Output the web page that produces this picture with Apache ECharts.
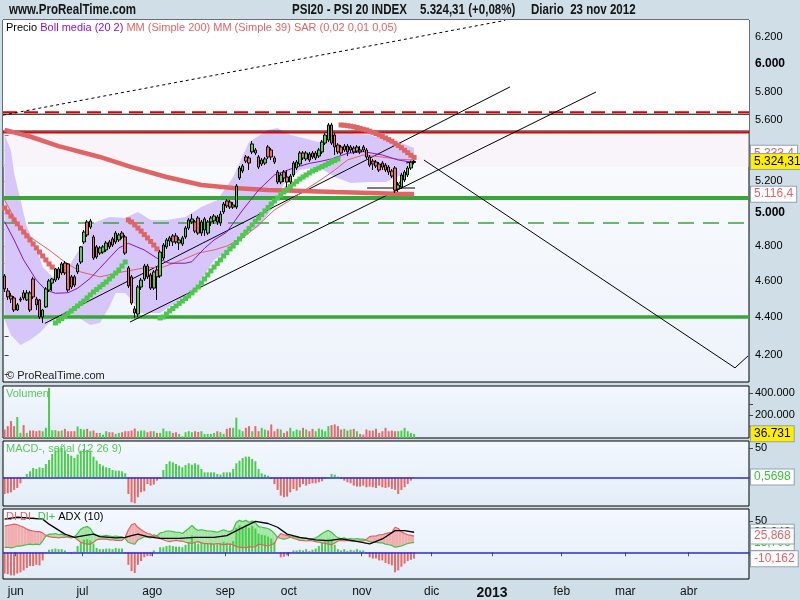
<!DOCTYPE html>
<html><head><meta charset="utf-8"><title>PSI20</title>
<script src="https://cdn.jsdelivr.net/npm/echarts@6/dist/echarts.min.js"></script>
<style>html,body{margin:0;padding:0;background:#cfdee7;overflow:hidden}#chart{width:800px;height:600px}</style>
</head><body><div id="chart"></div>
<script>
// ---------------- DATA ----------------
const HOLIDAYS = ['2012-12-25','2012-12-26','2013-01-01','2013-03-29','2013-04-01'];
const N_CATEGORIES = 235;
const MONTHS = ['ene','feb','mar','abr','may','jun','jul','ago','sep','oct','nov','dic'];

const open = [4627,4543,4515,4504,4438,4493,4532,4493,4532,4610,
 4498,4493,4400,4455,4548,4587,4604,4667,4644,4701,
 4696,4622,4622,4650,4707,4824,4944,4913,4854,4795,
 4759,4765,4777,4824,4842,4824,4836,4877,4854,4673,
 4622,4444,4416,4565,4610,4684,4633,4559,4661,4627,
 4730,4795,4830,4860,4860,4818,4812,4854,4907,4944,
 4944,4968,4877,4895,4877,4944,4950,4974,4938,5005,
 5073,5066,5035,5035,5218,5263,5354,5347,5387,5400,
 5354,5308,5314,5420,5400,5347,5256,5192,5256,5224,
 5192,5237,5282,5308,5380,5341,5373,5380,5347,5360,
 5387,5446,5466,5568,5500,5433,5420,5400,5426,5400,
 5413,5393,5400,5420,5400,5354,5327,5321,5308,5314,
 5301,5288,5263,5282,5148,5160,5205,5237,5282,5318];
const close = [4554,4510,4498,4438,4466,4498,4504,4532,4438,4510,
 4466,4400,4438,4554,4599,4610,4667,4616,4696,4644,
 4548,4565,4576,4690,4795,4883,4866,4950,4730,4736,
 4789,4795,4818,4795,4806,4877,4866,4854,4759,4571,
 4476,4422,4565,4604,4684,4622,4559,4650,4622,4765,
 4806,4836,4848,4824,4824,4836,4848,4907,4956,4962,
 4889,4877,4944,4962,4944,4968,4980,4944,4992,5054,
 5042,5035,5048,5167,5282,5295,5327,5314,5440,5380,
 5288,5334,5341,5354,5354,5321,5192,5237,5218,5192,
 5230,5314,5321,5380,5347,5380,5334,5354,5380,5400,
 5453,5500,5568,5446,5420,5387,5380,5426,5387,5420,
 5387,5420,5387,5400,5354,5301,5308,5295,5269,5288,
 5269,5256,5230,5141,5173,5237,5256,5282,5320,5324.31];
const high = [4638,4559,4532,4515,4476,4510,4548,4548,4543,4622,
 4510,4498,4444,4565,4610,4616,4673,4678,4707,4713,
 4701,4633,4633,4701,4800,4895,4956,4962,4866,4806,
 4800,4806,4830,4836,4854,4889,4877,4889,4866,4684,
 4633,4460,4576,4616,4696,4696,4644,4661,4684,4777,
 4818,4848,4860,4871,4877,4854,4860,4919,4968,4992,
 4956,4980,4956,4974,4956,4980,4992,4986,5011,5066,
 5085,5079,5066,5179,5295,5308,5367,5360,5460,5413,
 5367,5347,5354,5433,5413,5360,5269,5250,5269,5269,
 5243,5327,5334,5393,5393,5393,5387,5393,5393,5413,
 5466,5514,5581,5581,5514,5446,5433,5440,5440,5433,
 5426,5433,5426,5433,5413,5367,5341,5334,5321,5327,
 5314,5301,5275,5295,5192,5250,5269,5295,5330,5334];
const low = [4537,4493,4476,4427,4433,4482,4493,4487,4427,4498,
 4438,4389,4368,4449,4537,4543,4593,4604,4633,4633,
 4537,4554,4565,4638,4696,4812,4854,4901,4719,4725,
 4748,4754,4765,4783,4795,4812,4824,4842,4748,4559,
 4466,4395,4400,4548,4599,4610,4548,4548,4493,4616,
 4719,4783,4800,4800,4812,4777,4800,4842,4895,4932,
 4877,4866,4860,4860,4866,4919,4932,4926,4919,4992,
 5029,5023,5023,5023,5205,5250,5314,5269,5373,5367,
 5275,5295,5301,5341,5334,5308,5179,5179,5192,5160,
 5179,5224,5269,5295,5334,5327,5321,5341,5334,5347,
 5373,5433,5453,5433,5367,5373,5367,5387,5360,5380,
 5373,5380,5373,5387,5341,5288,5269,5282,5256,5269,
 5256,5237,5218,5123,5129,5148,5192,5224,5269,5305];

const volume = [75000,105000,150000,105000,186000,45000,114000,45000,66000,66000,
 60000,66000,60000,90000,444000,69000,69000,60000,66000,81000,
 60000,60000,60000,102000,81000,75000,81000,60000,66000,45000,
 45000,30000,60000,51000,51000,36000,45000,51000,60000,60000,
 66000,84000,60000,66000,66000,51000,60000,60000,45000,45000,
 84000,60000,60000,45000,51000,36000,15000,51000,60000,51000,
 60000,54000,60000,36000,36000,36000,45000,60000,51000,36000,
 81000,90000,90000,180000,75000,60000,90000,105000,60000,105000,
 60000,90000,75000,66000,120000,60000,81000,75000,45000,60000,
 90000,60000,75000,66000,90000,75000,60000,81000,60000,84000,
 75000,60000,105000,114000,120000,105000,75000,81000,66000,75000,
 81000,60000,36000,30000,75000,66000,66000,81000,45000,60000,
 90000,60000,66000,60000,60000,66000,90000,60000,45000,36731];

const macdHist = [-28.5,-27.3,-25.6,-21.6,-18.2,-10.2,-2,5.7,10.2,15.9,
 14.2,17,15.9,22.8,29.6,39.8,45.5,48.4,50,45.5,
 39.8,37,33,38.7,45.5,48.4,46.7,45.5,35.3,28.5,
 22.8,19.9,17,15.9,12.5,11.4,11.4,10.2,6.8,-28.5,
 -42.7,-44.4,-34.1,-25.6,-23.9,-11.4,-14.2,-12.5,-5.7,-2.8,
 12.5,22.8,27.3,25.6,22.8,19.9,17,21,23.9,21.6,
 23.9,21.6,14.2,8.5,8.5,8.5,8.5,5.7,4.6,8.5,
 8.5,8.5,14.2,23.9,28.5,33,35.3,35.3,31.3,27.3,
 14.2,6.8,4.6,2.8,-2.8,-11.4,-21.6,-31.3,-34.1,-33,
 -25.6,-19.9,-22.8,-17,-11.4,-14.2,-11.4,-10.2,-10.2,-8.5,
 -6.8,-2.8,-0.6,5.7,4.6,1.1,-2.8,-5.7,-8.5,-10.2,
 -14.2,-15.9,-15.9,-14.2,-17,-15.9,-17,-18.2,-14.2,-17,
 -18.2,-17,-19.9,-21.6,-28.5,-21.6,-17,-11.4,-5.7,0.5698];

const diMinus = [42,43,44,45,44,42,40,37,35,34,
 33,33,31,27,25,24,24,23,24,24,
 25,25,24,20,16,14,13,13,16,20,
 21,21,21,20,20,19,19,19,24,36,
 44,46,40,36,33,30,29,25,26,22,
 20,18,17,18,19,18,18,16,15,14,
 16,17,15,14,14,13,13,14,13,12,
 13,13,12,9,8,8,7,9,8,9,
 13,12,11,10,12,14,24,30,28,27,
 25,22,21,19,19,18,19,18,17,16,
 15,14,13,12,15,18,19,18,19,18,
 18,17,18,18,21,25,26,26,28,28,
 30,31,32,40,38,33,30,28,27,25.868];
const diPlus = [8,8,7,8,10,10,11,12,13,12,
 13,12,18,26,29,29,30,28,29,27,
 24,23,25,30,37,40,41,38,30,27,
 26,26,27,26,25,26,25,25,22,16,
 14,13,20,22,25,24,23,28,26,31,
 32,34,34,33,32,32,30,34,38,43,
 38,35,36,35,34,34,33,32,34,36,
 34,33,36,48,51,49,51,48,50,47,
 41,40,39,38,35,30,24,22,21,22,
 24,25,24,23,22,23,21,22,23,26,
 30,33,35,32,27,23,22,23,21,22,
 21,22,21,21,19,17,16,16,15,15,
 13,12,11,8,9,10,12,14,15,15.706];
const diHist = [-34,-35,-37,-37,-34,-32,-29,-25,-22,-22,
 -20,-21,-13,-1,4,5,6,5,5,3,
 -1,-2,1,10,16,20,21,19,14,7,
 5,5,6,6,5,7,6,6,-2,-20,
 -30,-33,-20,-14,-8,-6,-6,3,0,8,
 8,10,11,10,9,9,8,12,16,27,
 16,14,15,15,14,15,14,13,15,17,
 15,14,18,39,43,41,44,39,42,38,
 30,28,27,25,22,16,0,-8,-7,-5,
 -1,3,3,4,3,5,2,4,6,10,
 15,19,22,20,12,5,3,5,2,4,
 3,5,3,3,-2,-8,-10,-10,-13,-13,
 -17,-19,-21,-32,-29,-23,-18,-14,-12,-10.162];
const adxIdx = [0,4,12,14,19,22,25,28,30,35,38,40,42,45,49,55,60,66,70,74,79,83,86,89,93,98,102,106,111,115,119,123,126,129];
const adxVal = [53,56,53,45,29,24,26.6,29,25,23,24,26.6,29,25,22.4,22.4,24,24,26.6,37,49.5,46,40,29,24,19.7,18.6,21.3,17.6,13.3,21.3,34.6,34.6,32.04];

const sma200Idx = [0,8,17,30,40,51,62,72,83,94,104,115,125,129];
const sma200Val = [5535,5490,5426,5354,5288,5224,5173,5154,5141,5135,5129,5123,5117,5116.4];
const sma39Idx = [0,4,8,14,19,24,30,37,44,50,56,61,66,70,75,80,85,91,96,100,104,108,113,118,124,129];
const sma39Val = [5079,4938,4854,4777,4707,4650,4622,4650,4673,4678,4719,4759,4777,4800,4848,4926,5017,5091,5160,5211,5269,5334,5367,5356,5339,5334];
const bbMidIdx = [0,3,6,10,13,16,20,23,27,30,33,36,39,44,48,52,57,59,63,66,70,75,80,85,91,96,99,103,108,113,119,124,129];
const bbMidVal = [4946,4836,4719,4604,4548,4530,4533,4558,4614,4671,4730,4789,4816,4777,4729,4700,4700,4709,4787,4836,4883,5017,5141,5237,5282,5312,5323,5341,5378,5389,5367,5334,5317];
const bbUpIdx = [0,2,3,5,7,10,12,15,19,24,28,33,38,42,46,51,57,62,67,72,77,83,86,90,94,99,103,109,115,120,125,129];
const bbUpVal = [5500,5400,5250,5079,4913,4795,4678,4622,4644,4795,4938,4974,4968,5005,4956,4956,4974,5035,5079,5224,5453,5534,5547,5500,5480,5453,5520,5514,5500,5466,5446,5413];
const bbLowIdx = [0,2,5,8,11,14,17,23,27,30,33,35,38,40,43,49,55,60,62,66,72,75,80,84,88,93,99,104,109,115,120,125,129];
const bbLowVal = [4384,4304,4252,4278,4315,4368,4395,4400,4357,4368,4455,4532,4532,4493,4422,4422,4493,4548,4604,4719,4795,4854,4913,5017,5180,5269,5288,5224,5186,5192,5192,5237,5334];

const sarValues = [5029,5005,4980,4956,4932,4907,4883,4860,4836,4812,4789,4765,4742,4719,4696,4678,
 4368,4379,4392,4406,4419,4433,4446,4460,4474,4487,4504,4521,4537,4551,4565,4579,4593,4610,4627,4644,4661,4684,4707,
 4956,4944,4926,4907,4889,4868,4848,4827,4806,4783,
 4395,4400,4416,4433,4446,4460,4474,4487,4501,4515,4532,4548,4565,4587,4610,4633,4656,4678,4699,4719,4742,4762,4783,4800,4821,4842,4863,4883,4904,4926,4947,4968,4989,5011,5032,5054,5073,5091,5110,5129,5148,5163,5179,5195,5211,5224,5237,5250,5263,5272,5282,5291,5301,5311,5321,5331,5341,
 5568,5566,5563,5560,5556,5551,5545,5539,5534,5526,5518,5510,5500,5490,5480,5469,5458,5444,5430,5415,5398,5382,5365,5351];

// horizontal levels (price)
const levelRedDashed = 5655, levelBlackTop = 5642, levelBlackMid = 5527, levelRedSolid = 5517;
const levelGreenHigh = 5091, levelGreenDashed = 4938, levelGreenLow = 4400;
// trend lines: [[index, price],[index, price]]
const trendDotted = [[-0.5,5636],[157.7,6330]];
const trendLines = [
 [[39.5,4373],[186.3,5798]],
 [[12.7,4366],[159.2,5834]],
 [[132.1,5334],[230.1,4134]],
 [[230.1,4134],[234.2,4195]],
 [[114.2,5154],[129.3,5154]],
 [[122.7,5135],[129.0,5331]],
 [[126.5,5315],[129.3,5324]]
];
// axis ticks
const priceTicks = [4200,4400,4600,4800,5000,5200,5400,5600,5800,6000,6200];
const priceMinorTicks = [4100,4200,4300,4400,4500,4600,4700,4800,4900,5000,5100,5200,5300,5400,5500,5600,5700,5800,5900,6000,6100,6200,6300];
const PRICE_MIN = 4063, PRICE_MAX = 6333;
const volTicks = [200000,400000], volMinor = [100000,200000,300000,400000];
// right-hand value tags
const lastClose = 5324.31, lastSma200 = 5116.4, hiddenTagValue = 5395, hiddenTagText = '5.333,4';
const adxLast = 32.04;

// ---------------- HELPERS ----------------
const L = Math.log;
const FONT = "'Liberation Sans', Arial, sans-serif";
function fmtNum(v, dec){ const neg=v<0; const s=Math.abs(v).toFixed(dec); let [ip,fp]=s.split('.'); ip=ip.replace(/\B(?=(\d{3})+(?!\d))/g,'.'); return (neg?'-':'')+ip+(fp?','+fp:''); }
function buildDates(){ const out=[]; const d=new Date(Date.UTC(2012,4,28)); while(out.length<N_CATEGORIES){ const wd=d.getUTCDay(); const s=d.toISOString().slice(0,10); if(wd!==0&&wd!==6&&!HOLIDAYS.includes(s)) out.push(s); d.setUTCDate(d.getUTCDate()+1);} return out; }
const dates = buildDates();
const monthStart = new Set();
for (let i=1;i<dates.length;i++) if (dates[i].slice(5,7)!==dates[i-1].slice(5,7)) monthStart.add(i);

const UP='#52d052', DOWN='#e67070', SALMON='#e06464', PURPLE='#8c10c8', GREENL='#36a836';
const XMAX = N_CATEGORIES - 0.5;
const CLEAR = 'rgba(0,0,0,0)';

function tag(value, text, color, bg){
  return { yAxis: value, lineStyle:{color:CLEAR, width:0},
    label:{ show:true, position:'end', distance:2, formatter:text, color:color, backgroundColor:bg,
      borderColor:'#8fa3b3', borderWidth:1, padding:[2,3,1,3], fontSize:12, fontFamily:FONT, opacity:1 },
    emphasis:{disabled:true} };
}
function pairLine(idx, val){ return idx.map((x,k)=>[x, L(val[k])]); }
function hLine(v){ return [[-0.5, L(v)],[XMAX, L(v)]]; }
function lineSeries(data, style, z){ return { type:'line', xAxisIndex:4, yAxisIndex:0, data, symbol:'none', silent:true, lineStyle:style, z:z||3, animation:false }; }

const panelBg = {type:'linear',x:0,y:0,x2:0,y2:1,colorStops:[{offset:0,color:'#f4f8ff'},{offset:1,color:'#e3edf7'}]};
const mainBg = {type:'linear',x:0,y:0,x2:0,y2:1,colorStops:[{offset:0,color:'#ffffff'},{offset:1,color:'#eef3fb'}]};

const grids = [
  {left:3, width:746, top:20, height:362, show:true, borderColor:'#000', borderWidth:1, backgroundColor:mainBg},
  {left:3, width:746, top:386, height:52, show:true, borderColor:'#000', borderWidth:1, backgroundColor:panelBg},
  {left:3, width:746, top:441, height:65, show:true, borderColor:'#000', borderWidth:1, backgroundColor:panelBg},
  {left:3, width:746, top:509, height:70, show:true, borderColor:'#000', borderWidth:1, backgroundColor:panelBg}
];
const catAxis = (g, showLabels) => ({
  type:'category', gridIndex:g, data:dates, boundaryGap:true,
  axisLine:{show:false}, splitLine:{show:false},
  axisTick:{show:showLabels, interval:(i)=>monthStart.has(i), length:4, lineStyle:{color:'#556'}},
  axisLabel:{show:showLabels, interval:(i)=>monthStart.has(i), margin:7,
    formatter:(v,i)=>{ const m=+v.slice(5,7); return m===1 ? '{y|'+v.slice(0,4)+'}' : '{m|'+MONTHS[m-1]+'}'; },
    rich:{ m:{fontSize:12, color:'#111', fontFamily:FONT, padding:[0,3,0,0]}, y:{fontSize:14, fontWeight:'bold', color:'#111', fontFamily:FONT, padding:[0,3,0,0]} } }
});
const rightLabel = (extra) => Object.assign({fontSize:11, color:'#000', fontFamily:FONT, margin:6}, extra);
const hdr = (x, text) => ({type:'text', x:x, y:2, scaleX:0.77, silent:true, style:{text:text, font:'bold 15px '+FONT, fill:'#151515'}});

const option = {
  animation:false,
  backgroundColor:'#cfdee7',
  textStyle:{fontFamily:FONT},
  graphic:[
    hdr(9, 'www.ProRealTime.com'),
    hdr(292, 'PSI20 - PSI 20 INDEX'),
    hdr(420, fmtNum(lastClose,2)+' (+0,08%)'),
    hdr(531, 'Diario  23 nov 2012')
  ],
  title:[
    {text:'{k|Precio} {p|Boll media (20 2)} {r|MM (Simple 200) MM (Simple 39) SAR (0,02 0,01 0,05)}', left:6, top:22, padding:0,
      textStyle:{fontSize:11, fontWeight:'normal', rich:{k:{color:'#000',fontSize:11,fontWeight:'normal',fontFamily:FONT}, p:{color:PURPLE,fontSize:11,fontWeight:'normal',fontFamily:FONT}, r:{color:SALMON,fontSize:11,fontWeight:'normal',fontFamily:FONT}}}},
    {text:'© ProRealTime.com', left:6, top:370, padding:0, textStyle:{fontSize:11, fontWeight:'normal', color:'#222', fontFamily:FONT}},
    {text:'Volumen', left:6, top:388, padding:0, textStyle:{fontSize:11, fontWeight:'normal', color:'#58c858', fontFamily:FONT}},
    {text:'MACD-, señal (12 26 9)', left:6, top:443, padding:0, textStyle:{fontSize:11, fontWeight:'normal', color:'#58c858', fontFamily:FONT}},
    {text:'{r|DI DI-} {g|DI+} {k|ADX (10)}', left:6, top:511, padding:0,
      textStyle:{fontSize:11, fontWeight:'normal', rich:{r:{color:SALMON,fontSize:11,fontWeight:'normal',fontFamily:FONT}, g:{color:'#44bb44',fontSize:11,fontWeight:'normal',fontFamily:FONT}, k:{color:'#000',fontSize:11,fontWeight:'normal',fontFamily:FONT}}}}
  ],
  grid: grids,
  xAxis:[ catAxis(0,false), catAxis(1,false), catAxis(2,false), catAxis(3,true),
    {type:'value', gridIndex:0, min:-0.5, max:XMAX, show:false} ],
  yAxis:[
    {type:'value', gridIndex:0, position:'right', min:L(PRICE_MIN), max:L(PRICE_MAX), splitLine:{show:false}, axisLine:{show:false},
      axisTick:{show:true, customValues:priceMinorTicks.map(L), length:4, lineStyle:{color:'#444'}},
      axisLabel:rightLabel({customValues:priceTicks.map(L),
        formatter:(v)=>{ const p=Math.round(Math.exp(v)); const t=fmtNum(p,0); return (p%1000===0)?'{b|'+t+'}':'{n|'+t+'}'; },
        rich:{b:{fontWeight:'bold',fontSize:12,color:'#000',fontFamily:FONT}, n:{fontSize:11,color:'#000',fontFamily:FONT}}})},
    {type:'value', gridIndex:1, position:'right', min:0, max:460000, splitLine:{show:false}, axisLine:{show:false},
      axisTick:{show:true, customValues:volMinor, length:4, lineStyle:{color:'#444'}},
      axisLabel:rightLabel({customValues:volTicks, formatter:(v)=>fmtNum(v,0)})},
    {type:'value', gridIndex:2, position:'right', min:-49, max:62, splitLine:{show:false}, axisLine:{show:false},
      axisTick:{show:true, customValues:[50,0], length:4, lineStyle:{color:'#444'}},
      axisLabel:rightLabel({customValues:[50], formatter:(v)=>fmtNum(v,0)})},
    {type:'value', gridIndex:3, position:'right', min:-42.7, max:69.2, splitLine:{show:false}, axisLine:{show:false},
      axisTick:{show:true, customValues:[50,0], length:4, lineStyle:{color:'#444'}},
      axisLabel:rightLabel({customValues:[50], formatter:(v)=>fmtNum(v,0)})}
  ],
  series:[
    // background zones
    { type:'line', xAxisIndex:4, yAxisIndex:0, data:[], silent:true, z:0,
      markArea:{silent:true, data:[
        [{yAxis:L(5288), itemStyle:{color:'rgba(250,236,244,0.4)'}},{yAxis:L(levelRedSolid)}],
        [{yAxis:L(levelBlackMid)},{yAxis:L(PRICE_MAX), itemStyle:{color:'#ffffff'}}]
      ]}},
    // Bollinger fill
    { type:'custom', xAxisIndex:4, yAxisIndex:0, data:[[0]], silent:true, z:1, clip:true,
      renderItem:(params, api)=>{
        const pts=[];
        bbUpIdx.forEach((x,k)=>pts.push(api.coord([x, L(bbUpVal[k])])));
        for (let k=bbLowIdx.length-1;k>=0;k--) pts.push(api.coord([bbLowIdx[k], L(bbLowVal[k])]));
        return {type:'polygon', shape:{points:pts}, style:{fill:'#d6c6fa'}};
      }},
    // horizontal levels
    lineSeries(hLine(levelRedDashed), {color:'#e00000', width:2, type:[14,7]}, 2),
    lineSeries(hLine(levelBlackTop), {color:'#000', width:1}, 2),
    lineSeries(hLine(levelBlackMid), {color:'#000', width:1}, 2),
    lineSeries(hLine(levelRedSolid), {color:'#e00000', width:2}, 2),
    lineSeries(hLine(levelGreenHigh), {color:GREENL, width:4}, 2),
    lineSeries(hLine(levelGreenDashed), {color:GREENL, width:1.5, type:[16,9]}, 2),
    lineSeries(hLine(levelGreenLow), {color:GREENL, width:3.5}, 2),
    // trend lines
    lineSeries(trendDotted.map(p=>[p[0],L(p[1])]), {color:'#000', width:1, type:[3,3]}, 3),
    ...trendLines.map(seg=>lineSeries(seg.map(p=>[p[0],L(p[1])]), {color:'#000', width:1}, 3)),
    // moving averages
    lineSeries(pairLine(sma200Idx, sma200Val), {color:SALMON, width:4.5}, 4),
    lineSeries(pairLine(sma39Idx, sma39Val), {color:SALMON, width:1}, 4),
    lineSeries(pairLine(bbMidIdx, bbMidVal), {color:PURPLE, width:1}, 4),
    // SAR
    { type:'scatter', xAxisIndex:0, yAxisIndex:0, symbol:'rect', symbolSize:5, silent:true, z:5,
      data:sarValues.map((v,i)=>[i, L(v)]),
      itemStyle:{color:(p)=> (sarValues[p.dataIndex] > close[p.dataIndex]) ? SALMON : '#4cc84c', opacity:1} },
    // candles
    { type:'candlestick', xAxisIndex:0, yAxisIndex:0, barWidth:3, silent:true, z:6,
      data:open.map((o,i)=>[L(o), L(close[i]), L(low[i]), L(high[i])]),
      itemStyle:{color:UP, color0:DOWN, borderColor:'#000', borderColor0:'#000', borderColorDoji:'#000', borderWidth:1},
      markLine:{silent:true, symbol:'none', animation:false, data:[
        tag(L(hiddenTagValue), hiddenTagText, SALMON, '#ffffff'),
        tag(L(lastSma200), fmtNum(lastSma200,1), SALMON, '#ffffff'),
        tag(L(lastClose), fmtNum(lastClose,2), '#000', '#ffee00')
      ]}},
    // volume
    { type:'bar', xAxisIndex:1, yAxisIndex:1, barWidth:2, silent:true,
      data:volume.map((v,i)=>({value:v, itemStyle:{color: close[i]>=open[i] ? '#4ccc4c' : '#e26a6a'}})),
      markLine:{silent:true, symbol:'none', animation:false, data:[ tag(volume[volume.length-1], fmtNum(volume[volume.length-1],0), '#000', '#ffee00') ]}},
    // MACD histogram
    { type:'bar', xAxisIndex:2, yAxisIndex:2, barWidth:2, silent:true,
      data:macdHist.map(v=>({value:v, itemStyle:{color: v>=0 ? '#4ccc4c' : '#e26a6a'}})),
      markLine:{silent:true, symbol:'none', animation:false, data:[
        {yAxis:0, lineStyle:{color:'#2b2bd0', width:1.5, type:'solid'}, label:{show:false}},
        tag(macdHist[macdHist.length-1], fmtNum(macdHist[macdHist.length-1],4), '#3cbf3c', '#ffffff')
      ]}},
    // DI fill
    { type:'custom', xAxisIndex:3, yAxisIndex:3, silent:true, z:1,
      data:diPlus.slice(0,-1).map((v,i)=>[i]),
      renderItem:(params, api)=>{
        const i=params.dataIndex;
        const a0=api.coord([i, diPlus[i]]), b0=api.coord([i, diMinus[i]]);
        const a1=api.coord([i+1, diPlus[i+1]]), b1=api.coord([i+1, diMinus[i+1]]);
        const d0=diPlus[i]-diMinus[i], d1=diPlus[i+1]-diMinus[i+1];
        const G='#a4e6a4', R='#f0aeae';
        if (d0*d1>=0) {
          return {type:'polygon', shape:{points:[a0,a1,b1,b0]}, style:{fill:(d0+d1)>=0?G:R}};
        }
        const t=d0/(d0-d1);
        const c=[a0[0]+(a1[0]-a0[0])*t, a0[1]+(a1[1]-a0[1])*t];
        return {type:'group', children:[
          {type:'polygon', shape:{points:[a0,c,b0]}, style:{fill:d0>=0?G:R}},
          {type:'polygon', shape:{points:[c,a1,b1]}, style:{fill:d1>=0?G:R}}
        ]};
      }},
    { type:'bar', xAxisIndex:3, yAxisIndex:3, barWidth:2, silent:true, z:2,
      data:diHist.map(v=>({value:v, itemStyle:{color: v>=0 ? '#4ccc4c' : '#e26a6a'}})) },
    { type:'line', xAxisIndex:3, yAxisIndex:3, data:diPlus, symbol:'none', silent:true, z:3, lineStyle:{color:'#44c044', width:1.2} },
    { type:'line', xAxisIndex:3, yAxisIndex:3, data:diMinus, symbol:'none', silent:true, z:3, lineStyle:{color:'#e06060', width:1.2} },
    { type:'line', xAxisIndex:3, yAxisIndex:3, silent:true, z:4, symbol:'none', connectNulls:true,
      data:(function(){ const a=new Array(130).fill(null); adxIdx.forEach((x,k)=>{a[x]=adxVal[k];}); return a; })(),
      lineStyle:{color:'#000', width:1.3},
      markLine:{silent:true, symbol:'none', animation:false, data:[
        {yAxis:0, lineStyle:{color:'#2b2bd0', width:1.5, type:'solid'}, label:{show:false}},
        tag(adxLast, fmtNum(adxLast,3), '#000', '#ffffff'),
        tag(diPlus[diPlus.length-1], fmtNum(diPlus[diPlus.length-1],3), '#3cbf3c', '#ffffff'),
        tag(diMinus[diMinus.length-1], fmtNum(diMinus[diMinus.length-1],3), SALMON, '#ffffff'),
        tag(diHist[diHist.length-1], fmtNum(diHist[diHist.length-1],3), SALMON, '#ffffff')
      ]}}
  ]
};
const chart = echarts.init(document.getElementById('chart'), null, {renderer:'canvas'});
chart.setOption(option);
</script>
</body></html>
